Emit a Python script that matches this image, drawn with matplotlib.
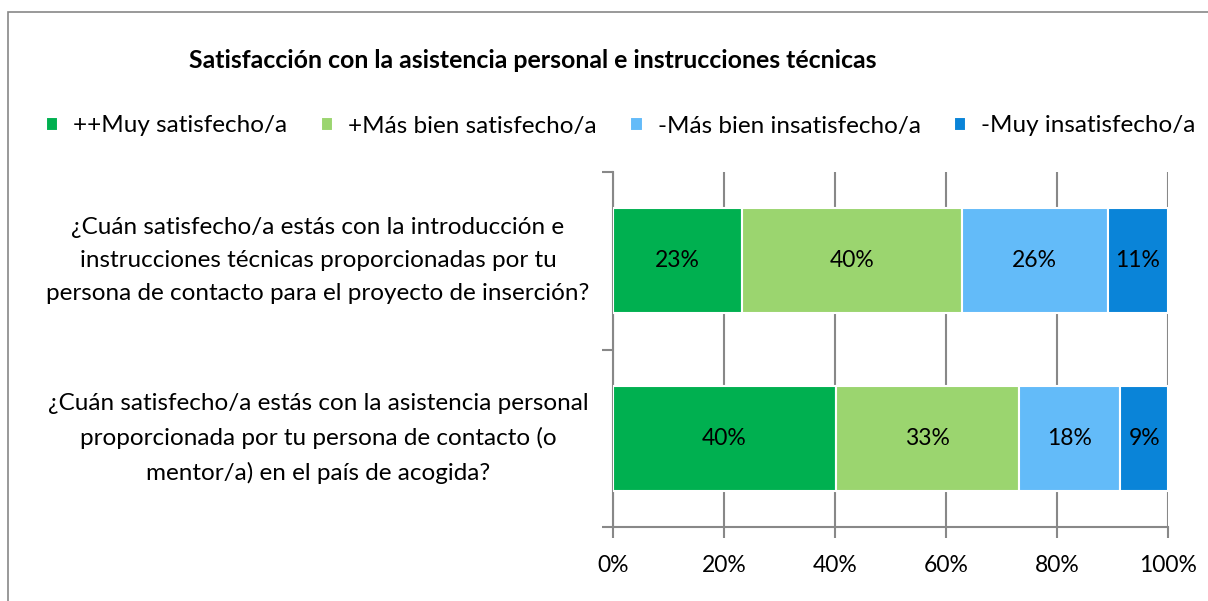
import matplotlib.pyplot as plt
import numpy as np
from matplotlib.patches import Rectangle

plt.rcParams['font.family'] = ['Lato', 'DejaVu Sans']

preguntas = [
    "¿Cuán satisfecho/a estás con la asistencia personal\nproporcionada por tu persona de contacto (o\nmentor/a) en el país de acogida?",
    "¿Cuán satisfecho/a estás con la introducción e\ninstrucciones técnicas proporcionadas por tu\npersona de contacto para el proyecto de inserción?",
]
categorias = ["++Muy satisfecho/a", "+Más bien satisfecho/a",
              "-Más bien insatisfecho/a", "-Muy insatisfecho/a"]
muy_satisfecho = [40.2, 23.2]
bien_satisfecho = [33.0, 39.6]
bien_insatisfecho = [18.2, 26.4]
muy_insatisfecho = [8.6, 10.8]
colores = ["#00B050", "#9BD56F", "#63BBF9", "#0A84D8"]

series = [muy_satisfecho, bien_satisfecho, bien_insatisfecho, muy_insatisfecho]

fig = plt.figure(figsize=(12.08, 6.01), dpi=100)
ax = fig.add_axes([613/1208, 1 - 527/601, 555/1208, 355/601])

y = np.arange(len(preguntas))
left = np.zeros(len(preguntas))
for vals, col, name in zip(series, colores, categorias):
    vals = np.array(vals)
    bars = ax.barh(y, vals, left=left, height=0.59, color=col,
                   edgecolor='white', linewidth=1.5, label=name, zorder=3)
    for b, v in zip(bars, vals):
        ax.text(b.get_x() + b.get_width() / 2, b.get_y() + b.get_height() / 2,
                f"{v:.0f}%", ha='center', va='center', fontsize=16.5, zorder=4)
    left += vals

ax.set_xlim(0, 100)
ax.set_ylim(-0.5, 1.5)
ax.set_xticks(np.arange(0, 101, 20))
ax.set_xticklabels([f"{t}%" for t in range(0, 101, 20)], fontsize=16.5)
ax.set_yticks([-0.5, 0.5, 1.5])
ax.set_yticklabels([])
ax.grid(axis='x', color='#888888', linewidth=1.5, zorder=0)
for s in ['top', 'right']:
    ax.spines[s].set_visible(False)
for s in ['left', 'bottom']:
    ax.spines[s].set_color('#888888')
    ax.spines[s].set_linewidth(1.5)
ax.tick_params(axis='both', color='#888888', width=1.5, length=8)
ax.tick_params(axis='x', pad=12)

for yi, q in zip(y, preguntas):
    ax.text(-0.5315, yi, q, transform=ax.get_yaxis_transform(),
            ha='center', va='center', fontsize=17.5, linespacing=1.7)

fig.text(533/1208, 1 - 60/601, "Satisfacción con la asistencia personal e instrucciones técnicas",
         ha='center', va='center', fontsize=17.9, fontweight='bold')

handles, labels = ax.get_legend_handles_labels()
fig.legend(handles, labels, loc='center', bbox_to_anchor=(621/1208, 1 - 126/601),
           ncol=4, frameon=False, fontsize=17.5, handlelength=0.5, handleheight=0.5,
           columnspacing=1.38, handletextpad=0.62)

fig.add_artist(Rectangle((8/1208, -0.1), 1.2, 1 - 12/601 + 0.1, transform=fig.transFigure,
                         fill=False, edgecolor='#878787', linewidth=1.2))

fig.savefig("out.png", dpi=100)
